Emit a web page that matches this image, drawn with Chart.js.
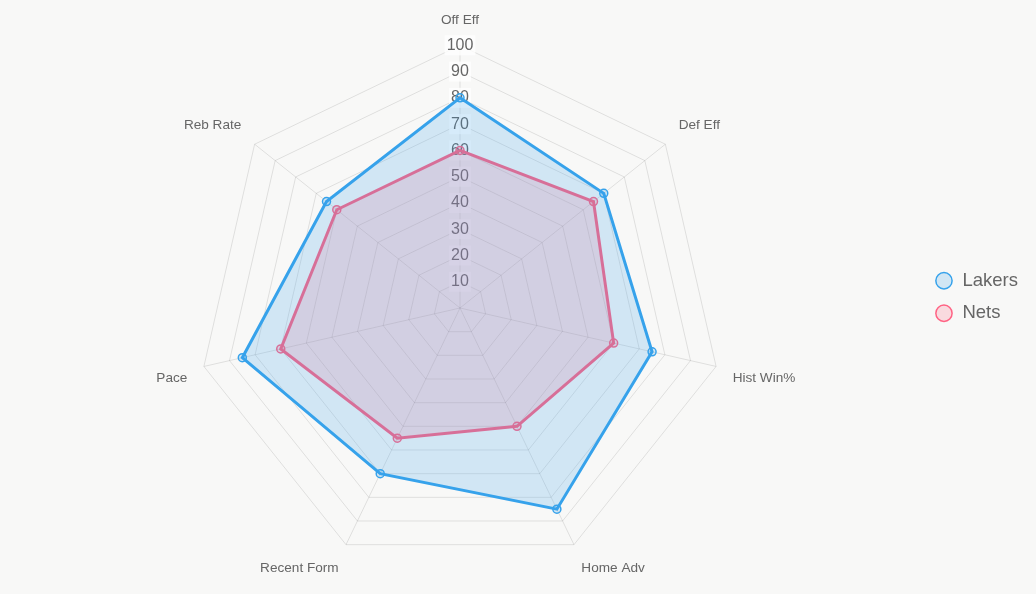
<!DOCTYPE html>
<html>
<head>
<meta charset="utf-8">
<script src="https://cdn.jsdelivr.net/npm/chart.js@4.4.0/dist/chart.umd.min.js"></script>
<style>
    html, body { margin: 0; padding: 0; background: #f8f8f7; }
    #wrap { width: 1036px; height: 594px; }
</style>
</head>
<body>
<div id="wrap"><canvas id="myChart"></canvas></div>
<script>
"use strict";

const labels = ["Off Eff", "Def Eff", "Hist Win%", "Home Adv", "Recent Form", "Pace", "Reb Rate"];
const lakers = [80, 70, 75, 85, 70, 85, 65];
const nets = [60, 65, 60, 50, 55, 70, 60];

const ctx = document.getElementById("myChart").getContext("2d");

new Chart(ctx, {
    type: "radar",
    data: {
        labels: labels,
        datasets: [
            {
                label: "Lakers",
                data: lakers,
                borderColor: "#36A2EB",
                backgroundColor: "rgba(54, 162, 235, 0.2)",
                borderWidth: 3,
                pointRadius: 4,
                pointBorderWidth: 1.5,
            },
            {
                label: "Nets",
                data: nets,
                borderColor: "#FF6384",
                backgroundColor: "rgba(255, 99, 132, 0.2)",
                borderWidth: 3,
                pointRadius: 4,
                pointBorderWidth: 1.5,
            },
        ],
    },
    options: {
        responsive: true,
        maintainAspectRatio: false,
        animation: false,
        layout: {
            padding: { right: 8, top: 1, bottom: 1 },
        },
        scales: {
            r: {
                min: 0,
                max: 100,
                ticks: {
                    stepSize: 10,
                    color: "#666",
                    font: { size: 16 },
                },
                pointLabels: {
                    color: "#666",
                    padding: 7,
                    font: { size: 13.6 },
                },
            },
        },
        plugins: {
            legend: {
                position: "right",
                labels: {
                    usePointStyle: true,
                    boxHeight: 11.5,
                    padding: 14,
                    color: "#666",
                    font: { size: 18.5 },
                },
            },
        },
    },
});
</script>
</body>
</html>
